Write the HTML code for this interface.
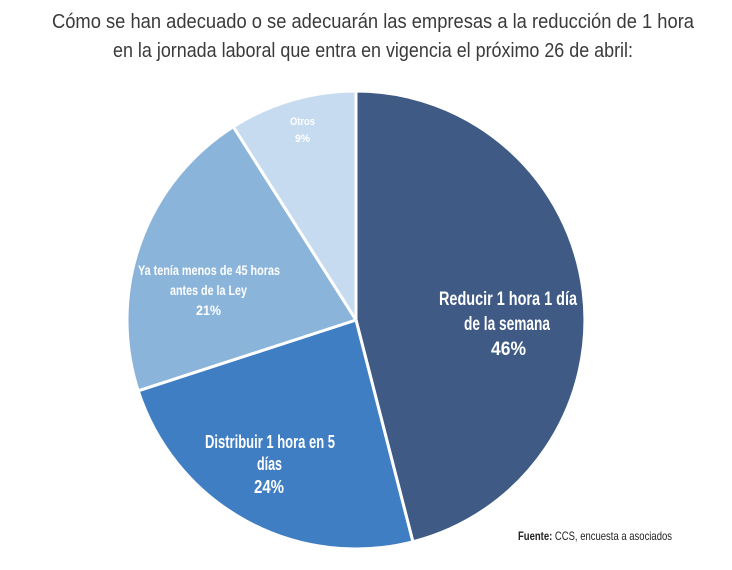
<!DOCTYPE html>
<html><head><meta charset="utf-8"><style>
body{margin:0;background:#fff;}
svg{display:block;font-family:"Liberation Sans Narrow","Liberation Sans",sans-serif;}
</style></head><body>
<svg width="732" height="570" viewBox="0 0 732 570">
<text x="373" y="28" text-anchor="middle" font-size="20" fill="#3a3a3a" textLength="642" lengthAdjust="spacingAndGlyphs">Cómo se han adecuado o se adecuarán las empresas a la reducción de 1 hora</text>
<text x="373" y="57" text-anchor="middle" font-size="20" fill="#3a3a3a" textLength="520" lengthAdjust="spacingAndGlyphs">en la jornada laboral que entra en vigencia el próximo 26 de abril:</text>
<g stroke="#fff" stroke-width="3" stroke-linejoin="round">
<path d="M356,320 L356,91 A229,229 0 0 1 412.9,541.8 Z" fill="#3e5a85"/>
<path d="M356,320 L412.9,541.8 A229,229 0 0 1 138.2,390.8 Z" fill="#3f7ec2"/>
<path d="M356,320 L138.2,390.8 A229,229 0 0 1 233.3,126.7 Z" fill="#8ab4da"/>
<path d="M356,320 L233.3,126.7 A229,229 0 0 1 356,91 Z" fill="#c6dbef"/>
</g>
<g fill="#fff" font-weight="bold">
<text x="439" y="305" font-size="19" textLength="138" lengthAdjust="spacingAndGlyphs">Reducir 1 hora 1 día</text>
<text x="464" y="330" font-size="19" textLength="86" lengthAdjust="spacingAndGlyphs">de la semana</text>
<text x="491" y="355" font-size="19" textLength="35" lengthAdjust="spacingAndGlyphs">46%</text>
<text x="205" y="448" font-size="18" textLength="130" lengthAdjust="spacingAndGlyphs">Distribuir 1 hora en 5</text>
<text x="257" y="470" font-size="18" textLength="25" lengthAdjust="spacingAndGlyphs">días</text>
<text x="254" y="493" font-size="18" textLength="30" lengthAdjust="spacingAndGlyphs">24%</text>
<text x="138" y="275" font-size="14" textLength="142" lengthAdjust="spacingAndGlyphs">Ya tenía menos de 45 horas</text>
<text x="170" y="295" font-size="14" textLength="77" lengthAdjust="spacingAndGlyphs">antes de la Ley</text>
<text x="196" y="315" font-size="14" textLength="25" lengthAdjust="spacingAndGlyphs">21%</text>
<text x="290" y="125" font-size="11" textLength="25" lengthAdjust="spacingAndGlyphs">Otros</text>
<text x="295" y="142" font-size="11" textLength="15" lengthAdjust="spacingAndGlyphs">9%</text>
</g>
<text x="518" y="540" font-size="12" fill="#222" textLength="154" lengthAdjust="spacingAndGlyphs"><tspan font-weight="bold">Fuente:</tspan> CCS, encuesta a asociados</text>
</svg>
</body></html>
